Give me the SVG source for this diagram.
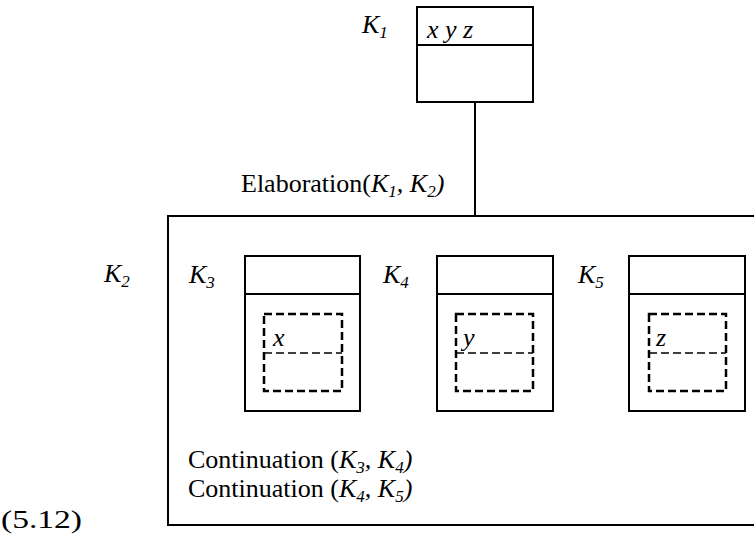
<svg xmlns="http://www.w3.org/2000/svg" width="754" height="537" viewBox="0 0 754 537">
<style>
text{font-family:"Liberation Serif","Times New Roman",serif;font-size:26px;fill:#000}
.i{font-style:italic}
.s{font-size:17px;font-style:italic}
.box{fill:#fff;stroke:#000;stroke-width:2}
.dash{fill:none;stroke:#000;stroke-width:2.5;stroke-dasharray:8,4}
.dl{fill:none;stroke:#000;stroke-width:1.5;stroke-dasharray:8,4}
.ln{stroke:#000;stroke-width:2;fill:none}
</style>
<rect width="754" height="537" fill="#fff"/>
<g id="connectors">
<line class="ln" x1="475" y1="102" x2="475" y2="216"/>
<text x="241" y="192">Elaboration(<tspan class="i">K</tspan><tspan class="s" dy="5">1</tspan><tspan dy="-5" class="i">, K</tspan><tspan class="s" dy="5">2</tspan><tspan dy="-5" class="i">)</tspan></text>
</g>
<g id="K1">
<rect class="box" x="417" y="7" width="116" height="95"/>
<line class="ln" x1="417" y1="45" x2="533" y2="45"/>
<text class="i" x="427" y="38">x y z</text>
<text x="362" y="33"><tspan class="i">K</tspan><tspan class="s" dy="5">1</tspan></text>
</g>
<g id="K2">
<rect class="box" x="168" y="216" width="600" height="309"/>
<text x="104" y="282"><tspan class="i">K</tspan><tspan class="s" dy="5">2</tspan></text>
<text x="188" y="468">Continuation (<tspan class="i">K</tspan><tspan class="s" dy="5">3</tspan><tspan dy="-5" class="i">, K</tspan><tspan class="s" dy="5">4</tspan><tspan dy="-5" class="i">)</tspan></text>
<text x="188" y="497">Continuation (<tspan class="i">K</tspan><tspan class="s" dy="5">4</tspan><tspan dy="-5" class="i">, K</tspan><tspan class="s" dy="5">5</tspan><tspan dy="-5" class="i">)</tspan></text>
</g>
<g id="K3">
<rect class="box" x="245" y="256" width="115" height="155"/>
<line class="ln" x1="245" y1="294" x2="360" y2="294"/>
<rect class="dash" x="264" y="314" width="78" height="77"/>
<line class="dl" x1="264" y1="353" x2="342" y2="353"/>
<text class="i" x="273" y="346">x</text>
<text x="189" y="283"><tspan class="i">K</tspan><tspan class="s" dy="5">3</tspan></text>
</g>
<g id="K4">
<rect class="box" x="437" y="256" width="116" height="155"/>
<line class="ln" x1="437" y1="294" x2="553" y2="294"/>
<rect class="dash" x="456" y="314" width="77" height="77"/>
<line class="dl" x1="456" y1="353" x2="533" y2="353"/>
<text class="i" x="463" y="346">y</text>
<text x="383" y="283"><tspan class="i">K</tspan><tspan class="s" dy="5">4</tspan></text>
</g>
<g id="K5">
<rect class="box" x="629" y="256" width="116" height="155"/>
<line class="ln" x1="629" y1="294" x2="745" y2="294"/>
<rect class="dash" x="649" y="314" width="77" height="77"/>
<line class="dl" x1="649" y1="353" x2="726" y2="353"/>
<text class="i" x="656" y="346">z</text>
<text x="578" y="283"><tspan class="i">K</tspan><tspan class="s" dy="5">5</tspan></text>
</g>
<text x="1" y="528" style="font-size:25px" textLength="81" lengthAdjust="spacingAndGlyphs">(5.12)</text>
</svg>
